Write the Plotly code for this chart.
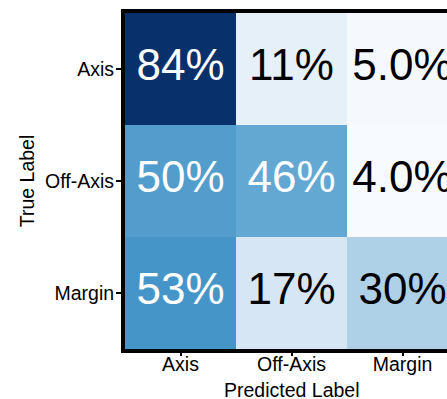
import plotly.graph_objects as go
import plotly.colors as pc

pred_labels = ["Axis", "Off-Axis", "Margin"]
true_labels = ["Axis", "Off-Axis", "Margin"]
values = [
    [84, 11, 5],
    [50, 46, 4],
    [53, 17, 30],
]
cell_text = [
    ["84%", "11%", "5.0%"],
    ["50%", "46%", "4.0%"],
    ["53%", "17%", "30%"],
]

vmin = min(min(r) for r in values)
vmax = max(max(r) for r in values)
mid = (vmin + vmax) / 2

xs = list(range(len(pred_labels)))
ys = list(range(len(true_labels)))

FONT = "Liberation Sans, Arial, sans-serif"

fig = go.Figure()
fig.add_trace(go.Heatmap(
    z=values, x=xs, y=ys,
    colorscale=pc.sequential.Blues, zmin=vmin, zmax=vmax,
    showscale=False, hoverinfo="skip",
))

tx, ty, tt, tc = [], [], [], []
for i, row in enumerate(values):
    for j, v in enumerate(row):
        tx.append(j); ty.append(i); tt.append(cell_text[i][j])
        tc.append("white" if v > mid else "black")
fig.add_trace(go.Scatter(
    x=tx, y=ty, text=tt, mode="text",
    textfont=dict(size=44, color=tc, family=FONT),
    hoverinfo="skip", showlegend=False,
))

fig.update_layout(
    width=447, height=399,
    margin=dict(l=125, r=0, t=13, b=50),
    paper_bgcolor="white", plot_bgcolor="white",
    font=dict(family=FONT, size=19.5, color="black"),
    showlegend=False,
)
fig.update_xaxes(
    range=[-0.5, -0.5 + 322 / 111], tickvals=xs, ticktext=pred_labels,
    showline=True, linewidth=4, linecolor="black", mirror=True,
    ticks="outside", ticklen=3, tickwidth=2, tickcolor="black",
    showgrid=False, zeroline=False,
    ticklabelstandoff=-8,
    tickfont=dict(size=19.5),
)
fig.update_yaxes(
    range=[2.5, -0.5], tickvals=ys, ticktext=true_labels,
    showline=True, linewidth=4, linecolor="black", mirror=False,
    ticks="outside", ticklen=5, tickwidth=2, tickcolor="black",
    showgrid=False, zeroline=False,
    ticklabelstandoff=-2,
    title=dict(text="True Label", standoff=6, font=dict(size=19.5)),
    tickfont=dict(size=19.5),
)
# x-axis title placed under the middle column
fig.add_annotation(
    text="Predicted Label", xref="x", x=xs[1], yref="paper", y=0,
    yanchor="bottom", yshift=-54, showarrow=False,
    font=dict(size=19.5, family=FONT, color="black"),
)

fig.write_html("out.html")
